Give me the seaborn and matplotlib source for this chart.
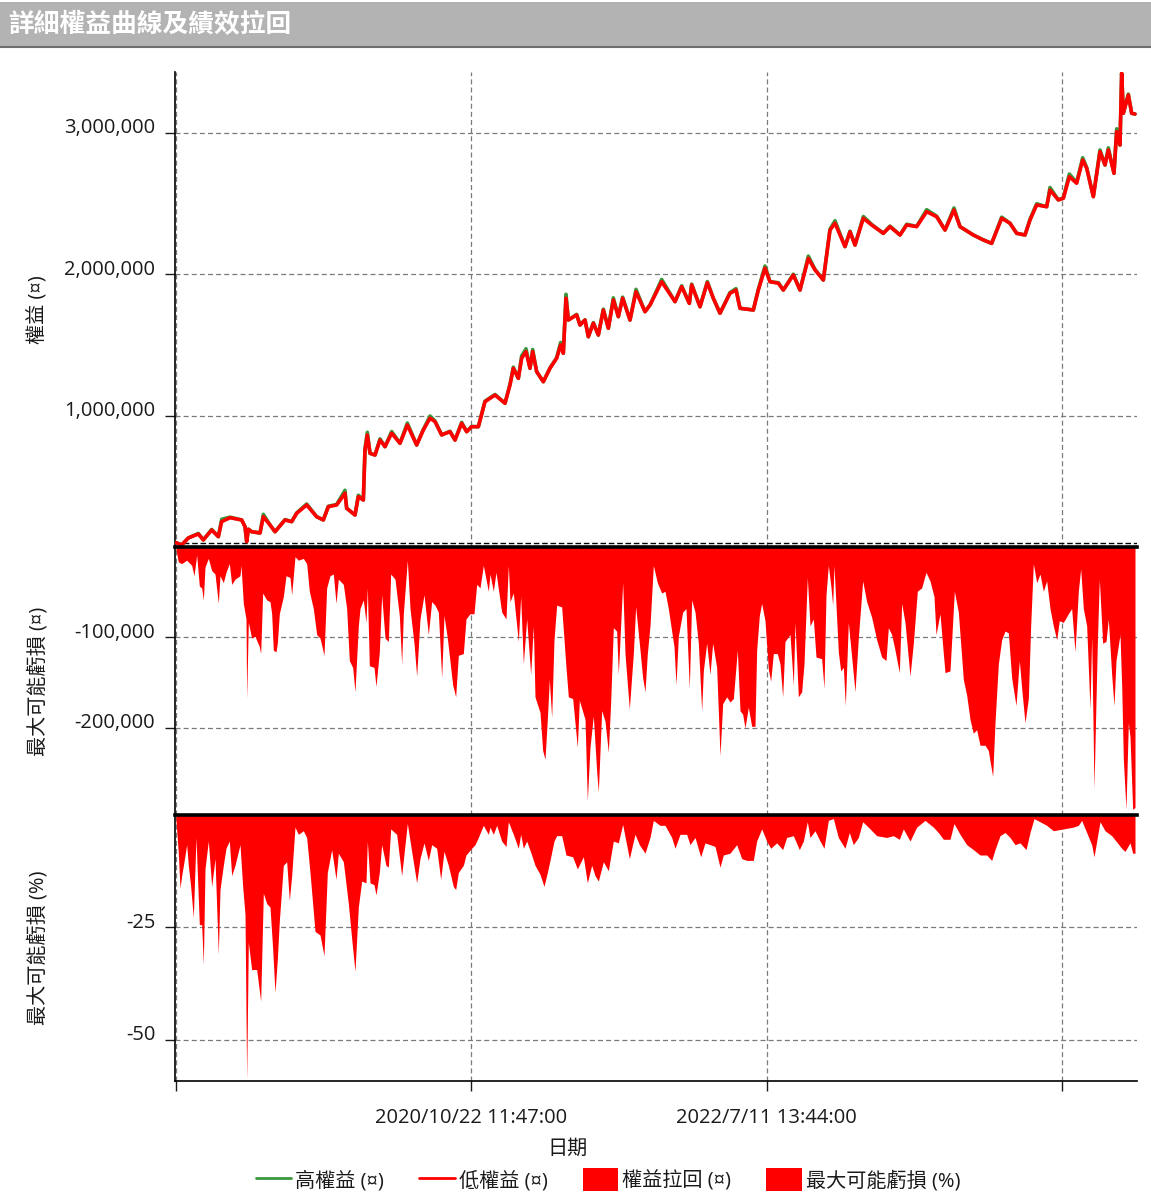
import matplotlib
matplotlib.use("Agg")
import matplotlib.pyplot as plt
import seaborn as sns
import numpy as np
from matplotlib.lines import Line2D
from matplotlib.patches import Patch, Rectangle
from matplotlib.transforms import ScaledTranslation

# ---------------- data (bar index along the time axis) ----------------
x_tick_pos = [0, 886, 1772, 2658]
x_tick_labels = ["", "2020/10/22 11:47:00", "2022/7/11 13:44:00", ""]

eq_bars = [0, 17, 37, 67, 82, 107, 127, 137, 162, 197, 207, 212, 217, 227, 252, 262, 282, 297, 327, 347,
           362, 392, 422, 442, 457, 482, 507, 512, 537, 547, 562, 567, 574, 582, 597, 612, 627, 647, 672, 694,
           722, 742, 762, 777, 797, 822, 837, 857, 872, 887, 907, 927, 957, 987, 1002, 1012, 1027, 1037, 1050, 1062,
           1070, 1082, 1102, 1122, 1142, 1154, 1162, 1170, 1177, 1202, 1212, 1227, 1237, 1252, 1267, 1282, 1297, 1312, 1327, 1340,
           1362, 1380, 1407, 1422, 1457, 1497, 1517, 1540, 1547, 1572, 1594, 1612, 1632, 1662, 1680, 1692, 1732, 1747, 1767, 1782,
           1807, 1822, 1852, 1872, 1897, 1917, 1942, 1962, 1977, 2007, 2022, 2037, 2062, 2087, 2122, 2142, 2172, 2192, 2222, 2252,
           2282, 2307, 2334, 2352, 2392, 2422, 2447, 2477, 2502, 2522, 2547, 2562, 2582, 2612, 2622, 2647, 2662, 2680, 2702, 2720,
           2732, 2752, 2772, 2787, 2797, 2814, 2822, 2832, 2837, 2842, 2857, 2867, 2877]

# low equity (thousands)
eq_low_k = [105, 88, 138, 166, 124, 194, 147, 253, 281, 265, 218, 112, 200, 182, 173, 288, 230, 182, 265, 253,
            312, 371, 288, 265, 359, 371, 454, 348, 300, 430, 406, 760, 866, 736, 724, 830, 783, 878, 807, 936,
            795, 901, 984, 960, 866, 889, 830, 948, 889, 924, 924, 1101, 1148, 1090, 1219, 1337, 1266, 1408, 1455, 1337,
            1455, 1313, 1242, 1337, 1408, 1502, 1443, 1832, 1678, 1714, 1643, 1678, 1560, 1655, 1572, 1749, 1620, 1820, 1702, 1832,
            1678, 1878, 1737, 1784, 1949, 1808, 1914, 1796, 1926, 1772, 1942, 1832, 1726, 1867, 1890, 1761, 1749, 1890, 2044, 1949,
            1938, 1890, 1996, 1890, 2114, 2032, 1961, 2314, 2362, 2197, 2302, 2208, 2397, 2350, 2291, 2338, 2279, 2350, 2338, 2444,
            2408, 2314, 2456, 2338, 2279, 2244, 2220, 2397, 2362, 2291, 2279, 2385, 2491, 2479, 2597, 2527, 2538, 2691, 2645, 2809,
            2751, 2550, 2868, 2774, 2880, 2715, 3009, 2915, 3422, 3139, 3269, 3139, 3134]

# high equity (thousands)
eq_high_k = [105, 88, 138, 170, 124, 198, 147, 270, 285, 265, 218, 112, 200, 182, 173, 305, 230, 182, 268, 253,
             315, 378, 288, 265, 362, 375, 475, 348, 300, 440, 406, 770, 885, 736, 724, 838, 783, 890, 807, 950,
             795, 905, 1000, 965, 866, 892, 830, 955, 889, 926, 924, 1105, 1152, 1090, 1225, 1345, 1266, 1425, 1475, 1337,
             1470, 1313, 1242, 1340, 1412, 1520, 1443, 1860, 1678, 1718, 1643, 1680, 1560, 1660, 1572, 1755, 1620, 1835, 1702, 1840,
             1678, 1895, 1737, 1784, 1965, 1808, 1920, 1796, 1932, 1772, 1950, 1832, 1726, 1872, 1900, 1761, 1749, 1896, 2060, 1949,
             1942, 1890, 2002, 1890, 2130, 2036, 1961, 2320, 2380, 2197, 2306, 2208, 2410, 2354, 2291, 2342, 2279, 2355, 2340, 2458,
             2412, 2314, 2470, 2338, 2279, 2244, 2220, 2405, 2362, 2291, 2279, 2390, 2500, 2479, 2615, 2527, 2542, 2710, 2650, 2825,
             2756, 2550, 2880, 2774, 2895, 2715, 3030, 2915, 3422, 3139, 3275, 3139, 3134]

# drawdown in currency (thousands)
dd_bars = [0, 7, 17, 32, 47, 54, 62, 70, 77, 82, 87, 97, 107, 117, 127, 132, 142, 150, 160, 167,
           177, 192, 195, 202, 210, 212, 217, 227, 237, 250, 254, 260, 272, 282, 287, 292, 300, 304, 310, 322,
           330, 342, 347, 357, 367, 382, 392, 400, 412, 422, 432, 444, 452, 462, 472, 480, 487, 502, 512, 520,
           530, 537, 547, 552, 562, 570, 574, 580, 594, 600, 610, 617, 627, 637, 644, 657, 670, 677, 682, 694,
           702, 714, 722, 732, 744, 757, 767, 777, 787, 797, 804, 814, 830, 839, 847, 862, 870, 882, 894, 902,
           912, 922, 937,
           942, 952, 960, 977, 990, 997, 1002, 1012, 1027, 1034, 1042, 1052, 1064, 1072, 1077, 1092, 1100, 1107, 1114, 1120,
           1127, 1134, 1142, 1157, 1170, 1177, 1190, 1204, 1210, 1227, 1234, 1242, 1252, 1262, 1267, 1277, 1287, 1297, 1304, 1312,
           1322, 1327, 1340, 1347, 1360, 1372, 1379, 1390, 1400, 1407, 1414, 1422, 1432, 1444, 1457, 1467, 1477, 1487, 1494, 1500,
           1507, 1520, 1530, 1540, 1547, 1557, 1567, 1577, 1582, 1592, 1602, 1610, 1622, 1632, 1640, 1652, 1662, 1672, 1684, 1692,
           1700, 1707, 1717, 1727, 1737, 1742, 1750, 1757, 1767, 1777, 1784, 1792, 1804, 1812, 1820, 1827, 1842, 1852, 1857, 1867,
           1877, 1884, 1894,
           1902, 1912, 1920, 1937, 1944, 1950, 1957, 1964, 1970, 1974, 1987, 1994, 2002, 2008, 2017, 2027, 2037, 2047, 2060, 2072,
           2087, 2102, 2117, 2130, 2137, 2147, 2157, 2170, 2177, 2187, 2202, 2212, 2224, 2237, 2250, 2262, 2274, 2280, 2292, 2302,
           2307, 2322, 2335, 2347, 2362, 2372, 2382, 2392, 2402, 2412, 2427, 2437, 2442, 2450, 2457, 2467, 2477, 2487, 2497, 2507,
           2520, 2530, 2537, 2547, 2557, 2564, 2572, 2582, 2592, 2602, 2612, 2622, 2632, 2642, 2650, 2662, 2677, 2687, 2697, 2707,
           2714, 2722, 2732, 2742, 2747, 2754, 2764, 2770, 2780, 2790, 2797, 2807, 2814, 2820, 2832, 2837, 2842, 2850, 2857, 2862,
           2870, 2877]

dd_k = [-3.0, -16.5, -18.4, -14.6, -20.3, -31.8, -8.8, -43.3, -45.2, -58.6, -22.2, -12.6, -26.1, -29.9, -62.4, -31.8, -39.5, -28.0, -18.4, -41.4,
        -35.6, -31.8, -20.3, -62.4, -79.7, -167.8, -83.5, -100.8, -98.8, -110.3, -118.0, -51.0, -58.6, -60.5, -73.9, -114.2, -116.1, -106.5, -73.9, -54.8,
        -31.8, -33.7, -52.9, -10.7, -14.6, -12.6, -18.4, -49.0, -68.2, -96.9, -100.8, -119.9, -45.2, -31.8, -29.9, -62.4, -35.6, -41.4, -68.2, -125.7,
        -133.3, -160.2, -87.3, -68.2, -58.6, -83.5, -45.2, -131.4, -133.3, -154.4, -116.1, -52.9, -100.8, -104.6, -29.9, -35.6, -75.9, -129.5, -73.9, -14.6,
        -68.2, -106.5, -142.9, -79.7, -52.9, -96.9, -60.5, -64.4, -72.0, -144.8, -75.9, -100.8, -152.5, -165.9, -119.9, -118.0, -79.7, -73.9, -73.9, -41.4,
        -45.2, -20.3, -49.0,
        -29.9, -49.0, -28.0, -72.0, -79.7, -20.3, -60.5, -51.0, -104.6, -54.8, -129.5, -79.7, -141.0, -87.3, -165.9, -183.1, -225.3, -234.9, -190.8, -146.7,
        -188.9, -102.7, -64.4, -66.3, -133.3, -165.9, -167.8, -221.5, -169.7, -190.8, -280.8, -221.5, -187.0, -248.3, -271.2, -181.2, -192.7, -227.2, -171.6, -89.3,
        -93.1, -141.0, -39.5, -118.0, -179.3, -118.0, -66.3, -106.5, -144.8, -160.2, -118.0, -87.3, -20.3, -39.5, -51.0, -49.0, -68.2, -93.1, -110.3, -152.5,
        -98.8, -72.0, -68.2, -156.3, -58.6, -72.0, -106.5, -181.2, -137.2, -106.5, -141.0, -106.5, -133.3, -231.0, -173.5, -165.9, -171.6, -167.8, -114.2, -181.2,
        -185.1, -200.4, -177.4, -198.5, -198.5, -114.2, -75.9, -62.4, -81.6, -135.2, -148.6, -118.0, -118.0, -129.5, -165.9, -104.6, -96.9, -152.5, -83.5, -165.9,
        -160.2, -129.5, -33.7,
        -87.3, -79.7, -121.8, -123.7, -156.3, -52.9, -20.3, -41.4, -64.4, -20.3, -116.1, -137.2, -133.3, -175.5, -83.5, -121.8, -160.2, -100.8, -37.5, -60.5,
        -77.8, -102.7, -121.8, -125.7, -89.3, -96.9, -114.2, -139.1, -62.4, -83.5, -142.9, -106.5, -49.0, -45.2, -28.0, -37.5, -54.8, -96.9, -73.9, -118.0,
        -139.1, -137.2, -49.0, -72.0, -146.7, -164.0, -190.8, -206.1, -202.3, -219.5, -219.5, -225.3, -236.8, -254.0, -194.6, -129.5, -102.7, -93.1, -95.0, -144.8,
        -175.5, -125.7, -156.3, -194.6, -167.8, -87.3, -18.4, -39.5, -29.9, -49.0, -37.5, -68.2, -87.3, -102.7, -81.6, -83.5, -73.9, -68.2, -116.1, -49.0,
        -24.1, -68.2, -87.3, -179.3, -98.8, -267.4, -106.5, -35.6, -106.5, -104.6, -79.7, -141.0, -175.5, -125.7, -96.9, -152.5, -234.9, -290.4, -194.6, -210.0,
        -290.4, -288.5]

# maximum possible loss (%)
pct_bars = [0, 7, 12, 17, 24, 32, 37, 44, 52, 60, 70, 77, 82, 87, 97, 107, 117, 127, 132, 142,
            150, 160, 167, 177, 192, 200, 207, 212, 217, 227, 242, 250, 254, 262, 272, 282, 290, 297, 304, 310,
            322, 332, 340, 347, 357, 367, 382, 392, 402, 417, 432, 444, 454, 467, 480, 487, 502, 517, 527, 537,
            547, 557, 570, 574, 582, 594, 600, 610, 617, 630, 637, 644, 662, 672, 677, 687, 694, 707, 722, 732,
            744, 757, 767, 782, 794, 804, 817, 832, 839, 847, 862, 870, 887, 897, 907, 922, 937,
            942, 952, 962, 977, 990, 997, 1012, 1027, 1034, 1042, 1052, 1067, 1077, 1092, 1104, 1114, 1122, 1134, 1142, 1157,
            1170, 1190, 1204, 1222, 1234, 1247, 1257, 1267, 1282, 1297, 1312, 1327, 1340, 1360, 1377, 1390, 1407, 1422, 1432, 1452,
            1467, 1487, 1497, 1512, 1532, 1542, 1557, 1574, 1587, 1602, 1617, 1632, 1642, 1662, 1682, 1697, 1712, 1732, 1742, 1757,
            1772, 1784, 1802, 1820, 1832, 1852, 1870, 1882, 1894,
            1902, 1917, 1932, 1944, 1957, 1972, 1987, 2007, 2020, 2032, 2047, 2060, 2077, 2102, 2132, 2152, 2170, 2182, 2202, 2222,
            2247, 2272, 2287, 2302, 2322, 2334, 2352, 2372, 2392, 2412, 2432, 2447, 2457, 2472, 2487, 2502, 2517, 2532, 2550, 2562,
            2574, 2592, 2612, 2632, 2662, 2692, 2707, 2717, 2732, 2747, 2754, 2764, 2772, 2787, 2807, 2820, 2837, 2847, 2862, 2870,
            2877]

pct_vals = [-1.2, -8.5, -16.3, -13.5, -10.4, -6.6, -11.2, -15.9, -22.8, -5.0, -24.4, -24.4, -33.3, -12.0, -5.8, -15.9, -9.7, -31.0, -16.6, -11.2,
            -7.4, -5.8, -13.5, -11.2, -6.6, -15.9, -22.1, -58.9, -28.3, -34.4, -34.4, -39.1, -41.4, -17.4, -19.7, -20.5, -29.8, -39.5, -32.1, -23.6,
            -11.2, -10.4, -19.0, -13.5, -2.7, -4.3, -3.5, -5.0, -12.8, -25.9, -26.7, -31.3, -12.8, -7.7, -14.3, -8.5, -10.4, -19.7, -27.5, -34.8,
            -20.5, -14.7, -15.1, -5.8, -15.1, -15.5, -17.8, -12.8, -6.6, -11.2, -11.6, -3.1, -4.3, -10.4, -13.5, -6.6, -1.9, -8.1, -15.1, -9.7,
            -6.2, -10.1, -6.6, -7.4, -14.3, -8.1, -11.2, -15.9, -16.6, -12.8, -11.2, -8.9, -7.4, -6.6, -5.0, -2.3, -4.3,
            -2.7, -4.3, -2.3, -5.8, -7.0, -1.5, -4.3, -7.4, -4.3, -7.4, -5.8, -8.9, -11.2, -13.2, -15.9, -12.8, -10.1, -5.8, -4.6, -4.6,
            -8.9, -9.3, -12.0, -9.3, -15.1, -11.2, -13.5, -14.7, -10.4, -12.4, -5.8, -6.2, -2.1, -9.7, -4.3, -6.6, -8.5, -5.0, -1.2, -2.3,
            -2.3, -5.0, -7.4, -4.3, -4.3, -6.6, -5.0, -9.3, -6.2, -6.6, -7.0, -11.6, -8.9, -8.5, -6.6, -9.7, -10.1, -10.1, -5.8, -3.1,
            -5.8, -7.4, -6.2, -7.7, -5.0, -4.6, -7.7, -5.8, -1.5,
            -5.0, -3.5, -5.8, -7.4, -1.2, -0.8, -5.0, -7.4, -3.9, -6.6, -5.0, -1.5, -2.7, -4.6, -5.0, -4.6, -5.4, -3.1, -5.8, -2.7,
            -1.2, -2.7, -3.9, -5.4, -5.4, -1.9, -4.3, -6.6, -7.7, -8.9, -8.9, -10.1, -7.7, -4.6, -3.9, -5.0, -6.6, -6.2, -7.7, -3.9,
            -0.8, -1.5, -2.3, -3.5, -3.1, -2.7, -2.3, -1.2, -3.9, -6.6, -9.3, -5.0, -1.5, -3.5, -4.6, -5.8, -7.4, -8.1, -6.2, -8.5,
            -8.5]

initial_capital = 100000
eq_ticks = [1000000, 2000000, 3000000]
dd_ticks = [-100000, -200000]
pct_ticks = [-25, -50]

title = "詳細權益曲線及績效拉回"
legend_labels = ["高權益 (¤)", "低權益 (¤)", "權益拉回 (¤)", "最大可能虧損 (%)"]
ylabels = ["權益 (¤)", "最大可能虧損 (¤)", "最大可能虧損 (%)"]
xlabel = "日期"

# ---------------- style ----------------
sns.set_theme(style="white")
plt.rcParams["font.family"] = ["Open Sans", "Noto Sans CJK TC", "DejaVu Sans"]
plt.rcParams["axes.unicode_minus"] = False

RED = "#ff0000"
GREEN = "#3c963c"
GRID = "#7a7a7a"
TXT = "#1a1a1a"
FS = 14.5

W, H = 1151, 1198
fig = plt.figure(figsize=(W / 100, H / 100), dpi=100)


def rect(l, t, r, b):
    return [l / W, 1 - b / H, (r - l) / W, (b - t) / H]


ax1 = fig.add_axes(rect(175, 72, 1137, 547))
ax2 = fig.add_axes(rect(175, 547, 1137, 815), sharex=ax1)
ax3 = fig.add_axes(rect(175, 815, 1137, 1081), sharex=ax1)

# title bar
fig.patches.append(Rectangle((0, 1 - 46 / H), 1, 44 / H, transform=fig.transFigure,
                             facecolor="#b3b3b3", edgecolor="none", zorder=0))
fig.lines.append(Line2D([0, 1], [1 - 46.5 / H] * 2, transform=fig.transFigure,
                        color="#6e6e6e", lw=1.5))
fig.text(8 / W, 1 - 24 / H, title, color="white", fontsize=18.5, fontweight="bold",
         va="center", ha="left", family=["Noto Sans CJK TC", "DejaVu Sans"])

# equity lines
eq_low = np.array(eq_low_k) * 1000
eq_high = np.array(eq_high_k) * 1000
sns.lineplot(x=eq_bars, y=eq_high, ax=ax1, color=GREEN, linewidth=2.6, legend=False,
             estimator=None, sort=False, zorder=3)
sns.lineplot(x=eq_bars, y=eq_low, ax=ax1, color=RED, linewidth=2.6, legend=False,
             estimator=None, sort=False, zorder=4)
ax1.axhline(initial_capital, color="black", lw=1.0, linestyle=(0, (4, 2)), zorder=2)

# drawdown fills
ax2.fill_between(dd_bars, np.array(dd_k) * 1000, 0, color=RED, linewidth=0, zorder=3)
ax3.fill_between(pct_bars, pct_vals, 0, color=RED, linewidth=0, zorder=3)

# axes limits
ax1.set_xlim(-3, 2883)
ax1.set_ylim(74000, 3431000)
ax2.set_ylim(-296700, 0)
ax3.set_ylim(-59.2, 0)

shift_up = ScaledTranslation(0, 7 / 100, fig.dpi_scale_trans)
for ax, ticks, fmt, lab in [(ax1, eq_ticks, "{:,.0f}", ylabels[0]),
                            (ax2, dd_ticks, "{:,.0f}", ylabels[1]),
                            (ax3, pct_ticks, "{:.0f}", ylabels[2])]:
    ax.set_facecolor("white")
    ax.set_axisbelow(True)
    ax.set_yticks(ticks)
    ax.set_yticklabels([fmt.format(t) for t in ticks])
    ax.set_xticks(x_tick_pos)
    ax.grid(True, color=GRID, linestyle=(0, (4, 2.5)), linewidth=0.9)
    ax.tick_params(axis="y", direction="out", length=7.2, width=1, pad=7,
                   labelsize=FS, colors=TXT, left=True)
    for t in ax.get_yticklabels():
        t.set_transform(t.get_transform() + shift_up)
    ax.set_ylabel(lab, fontsize=FS, color=TXT)
    ax.yaxis.set_label_coords(-0.131, 0.5)
    for s in ax.spines.values():
        s.set_visible(False)
    ax.spines["left"].set_visible(True)
    ax.spines["left"].set_color("black")
    ax.spines["left"].set_linewidth(1.2)

for ax in (ax2, ax3):
    ax.spines["top"].set_visible(True)
    ax.spines["top"].set_color("black")
    ax.spines["top"].set_linewidth(2.6)
    ax.spines["top"].set_zorder(5)

ax1.tick_params(axis="x", length=0, labelbottom=False)
ax2.tick_params(axis="x", length=0, labelbottom=False)
ax3.spines["bottom"].set_visible(True)
ax3.spines["bottom"].set_color("black")
ax3.spines["bottom"].set_linewidth(1.2)
ax3.set_xticklabels(x_tick_labels)
ax3.tick_params(axis="x", direction="out", length=7.2, width=1, pad=12,
                labelsize=FS, colors=TXT, bottom=True)
ax3.set_xlabel("")
fig.text(568 / W, 1 - 1149 / H, xlabel, fontsize=FS, color=TXT, ha="center", va="center")

# legend
handles = [Line2D([], [], color=GREEN, lw=2), Line2D([], [], color=RED, lw=2),
           Patch(facecolor=RED, edgecolor="none"), Patch(facecolor=RED, edgecolor="none")]
fig.legend(handles=handles, labels=legend_labels, loc="center",
           bbox_to_anchor=(608 / W, 1 - 1180 / H), ncol=4, frameon=False,
           fontsize=FS, handlelength=1.75, handleheight=1.35, handletextpad=0.2,
           columnspacing=1.75, labelcolor=TXT)

fig.savefig("out.png", dpi=100, facecolor="white")
